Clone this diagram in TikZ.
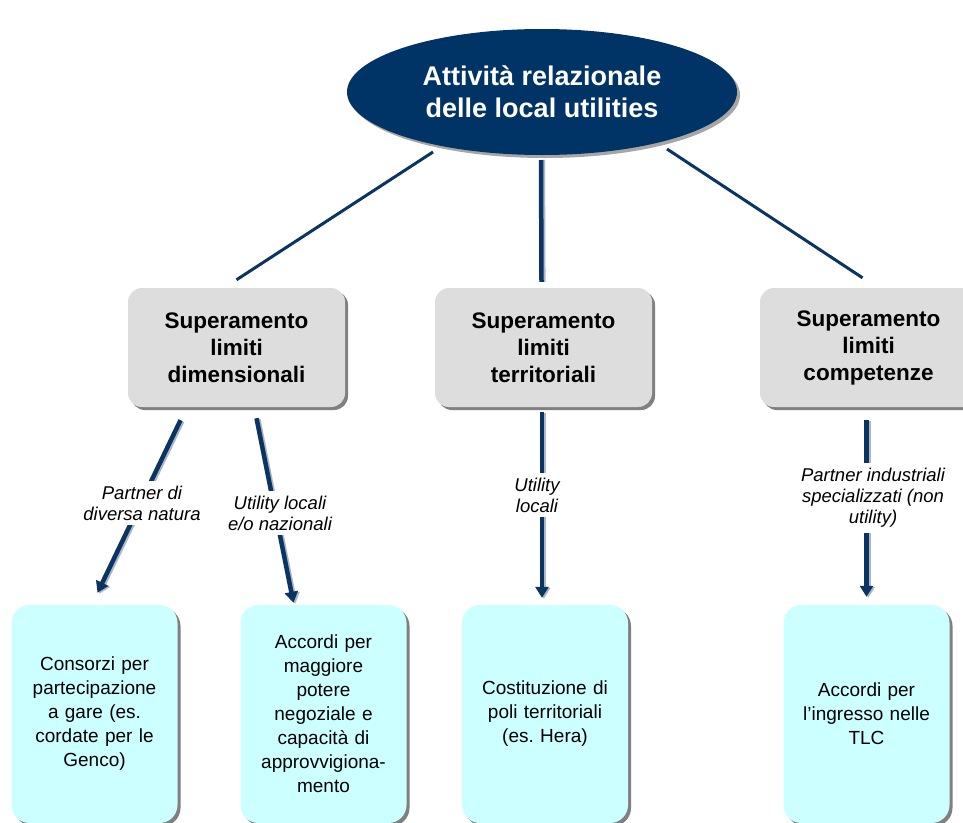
\documentclass[tikz,border=0pt]{standalone}
\usepackage{fontspec}
\setmainfont{Liberation Sans}
\usetikzlibrary{arrows.meta,shapes.geometric,shadows,calc}
\definecolor{navy}{RGB}{0,51,102}
\definecolor{arrowblue}{RGB}{12,52,98}
\definecolor{graybox}{RGB}{221,221,221}
\definecolor{cyanbox}{RGB}{204,255,255}
\frenchspacing
\begin{document}
\begin{tikzpicture}[x=1pt,y=-1pt,
  gbox/.style={rectangle, rounded corners=14pt, fill=graybox, minimum width=217pt, minimum height=119pt, align=center, font=\fontsize{22.5}{27}\selectfont\bfseries, drop shadow={shadow xshift=3pt,shadow yshift=-3pt,fill=black!50,opacity=1}},
  cbox/.style={rectangle, rounded corners=18pt, fill=cyanbox, minimum width=166pt, minimum height=218pt, text width=155pt, align=center, font=\fontsize{19}{24}\selectfont, drop shadow={shadow xshift=3pt,shadow yshift=-3pt,fill=black!50,opacity=1}},
  lbl/.style={fill=white, align=center, font=\fontsize{18.5}{21}\selectfont\itshape, inner xsep=3pt, inner ysep=5pt},
  conn/.style={line width=4.5pt, draw=arrowblue, -{Triangle[width=13pt,length=11pt]}},
  connsh/.style={line width=4.5pt, draw=arrowblue!35, -{Triangle[width=13pt,length=11pt]}, transform canvas={xshift=1.8pt,yshift=-1pt}},
  topline/.style={line width=3pt, draw=arrowblue},
]
\useasboundingbox (0,0) rectangle (963,822);
\fill[white] (0,0) rectangle (963,822);

% top ellipse
\node[ellipse, fill=navy, minimum width=390pt, minimum height=126pt, text=white,
      font=\fontsize{27}{32}\selectfont\bfseries, align=center,
      drop shadow={shadow xshift=3pt,shadow yshift=-3pt,fill=black!35,opacity=1}]
      (top) at (542,92) {Attività relazionale\\delle local utilities};

% gray boxes
\node[gbox] (g1) at (236.5,347.5) {Superamento\\limiti\\dimensionali};
\node[gbox] (g2) at (543.5,347.5) {Superamento\\limiti\\territoriali};
\node[gbox] (g3) at (868.5,347.5) {Superamento\\limiti\\competenze};

% cyan boxes
\node[cbox] (c1) at (94.5,714) {Consorzi per\\partecipazione\\a gare (es.\\cordate per le\\Genco)};
\node[cbox] (c2) at (323.5,714) {Accordi per\\maggiore\\potere\\negoziale e\\capacità di\\approvvigiona-\\mento};
\node[cbox] (c3) at (545,714) {Costituzione di\\poli territoriali\\(es. Hera)};
\node[cbox] (c4) at (866.5,714) {Accordi per\\l’ingresso nelle\\TLC};

% upper connectors
\draw[topline] ($(top.center)+(-109,60)$) -- ($(g1.north)+(0,-8)$);
\draw[line width=4.5pt, draw=arrowblue!35, transform canvas={xshift=1.8pt}] ($(top.center)+(-1,68)$) -- ($(g2.north)+(-2,-6)$);
\draw[line width=4.5pt, draw=arrowblue] ($(top.center)+(-1,68)$) -- ($(g2.north)+(-2,-6)$);
\draw[topline] ($(top.center)+(125,57)$) -- ($(g3.north)+(-6,-10)$);

% lower connectors (shadows)
\draw[connsh] ($(g1.south)+(-56,13)$) -- ($(c1.north)+(3,-12)$);
\draw[connsh] ($(g1.south)+(20,11)$) -- ($(c2.north)+(-30,-2)$);
\draw[connsh] ($(g2.south)+(-1.5,5)$) -- ($(c3.north)+(-3,-7)$);
\draw[connsh] ($(g3.south)+(-2,13)$) -- ($(c4.north)+(0,-8)$);
% lower connectors
\draw[conn] ($(g1.south)+(-56,13)$) -- ($(c1.north)+(3,-12)$);
\draw[conn] ($(g1.south)+(20,11)$) -- ($(c2.north)+(-30,-2)$);
\draw[conn] ($(g2.south)+(-1.5,5)$) -- ($(c3.north)+(-3,-7)$);
\draw[conn] ($(g3.south)+(-2,13)$) -- ($(c4.north)+(0,-8)$);

% labels
\node[lbl] (la) at (142,503) {Partner di\\diversa natura};
\node[lbl] (lb) at (280,513) {Utility locali\\e/o nazionali};
\node[lbl] (lc) at (537,495) {Utility\\locali};
\node[lbl] (ld) at (873,498) {Partner industriali\\specializzati (non\\utility)};
\end{tikzpicture}
\end{document}
